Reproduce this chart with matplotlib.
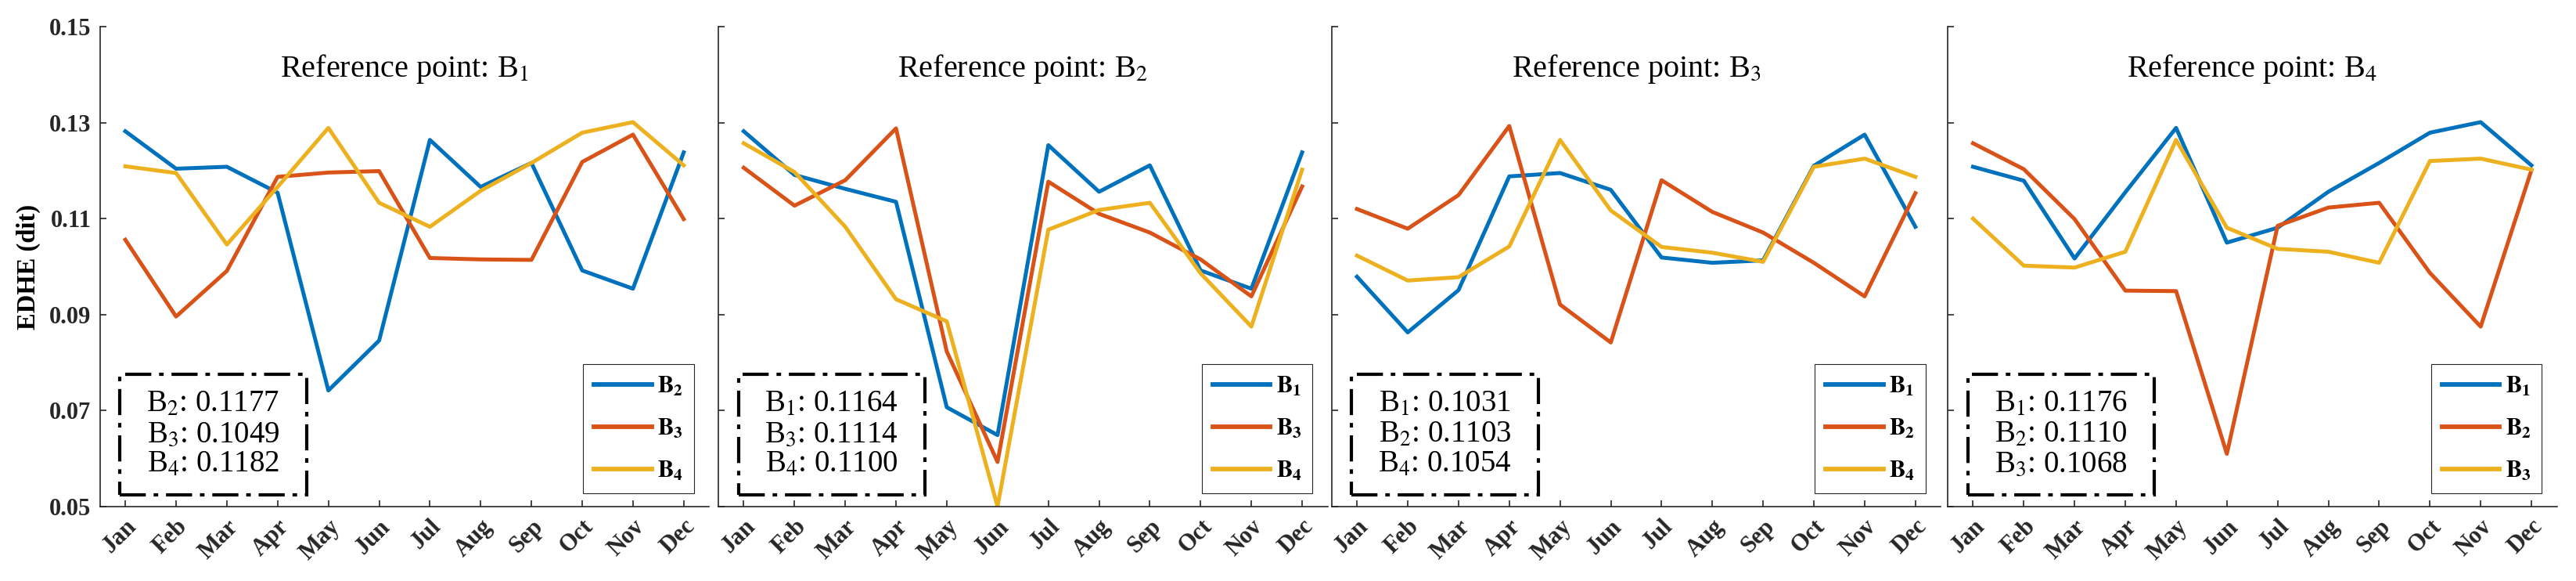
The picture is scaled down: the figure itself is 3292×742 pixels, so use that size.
import numpy as np
import matplotlib
matplotlib.use("Agg")
import matplotlib.pyplot as plt
from matplotlib.patches import Rectangle

plt.rcParams["font.family"] = ["Liberation Serif", "DejaVu Serif"]
plt.rcParams["mathtext.fontset"] = "stix"

months = ["Jan", "Feb", "Mar", "Apr", "May", "Jun", "Jul", "Aug", "Sep", "Oct", "Nov", "Dec"]

# reference point B1
ref1_B2 = [0.1282, 0.1204, 0.1208, 0.1154, 0.0742, 0.0846, 0.1264, 0.1166, 0.1216, 0.0992, 0.0954, 0.1238]
ref1_B3 = [0.1056, 0.0896, 0.0991, 0.1187, 0.1196, 0.1199, 0.1018, 0.1015, 0.1014, 0.1218, 0.1275, 0.1099]
ref1_B4 = [0.1209, 0.1195, 0.1046, 0.1166, 0.1289, 0.1133, 0.1083, 0.1158, 0.1216, 0.1279, 0.1301, 0.1211]
# reference point B2
ref2_B1 = [0.1282, 0.1191, 0.1162, 0.1135, 0.0707, 0.0649, 0.1253, 0.1156, 0.1211, 0.0992, 0.0954, 0.1238]
ref2_B3 = [0.1206, 0.1127, 0.1180, 0.1288, 0.0823, 0.0593, 0.1177, 0.1110, 0.1071, 0.1015, 0.0938, 0.1167]
ref2_B4 = [0.1257, 0.1197, 0.1083, 0.0932, 0.0886, 0.0500, 0.1077, 0.1118, 0.1133, 0.0986, 0.0875, 0.1202]
# reference point B3
ref3_B1 = [0.0979, 0.0863, 0.0951, 0.1188, 0.1195, 0.1160, 0.1019, 0.1008, 0.1013, 0.1210, 0.1275, 0.1083]
ref3_B2 = [0.1120, 0.1079, 0.1149, 0.1293, 0.0921, 0.0842, 0.1180, 0.1114, 0.1071, 0.1008, 0.0938, 0.1153]
ref3_B4 = [0.1023, 0.0971, 0.0978, 0.1042, 0.1264, 0.1117, 0.1041, 0.1029, 0.1010, 0.1208, 0.1225, 0.1187]
# reference point B4
ref4_B1 = [0.1208, 0.1179, 0.1017, 0.1155, 0.1289, 0.1050, 0.1081, 0.1156, 0.1216, 0.1279, 0.1301, 0.1211]
ref4_B2 = [0.1257, 0.1203, 0.1099, 0.0950, 0.0949, 0.0610, 0.1085, 0.1123, 0.1133, 0.0987, 0.0875, 0.1201]
ref4_B3 = [0.1100, 0.1002, 0.0998, 0.1031, 0.1264, 0.1081, 0.1037, 0.1031, 0.1008, 0.1220, 0.1225, 0.1202]

panels = [
    ("1", [("2", ref1_B2), ("3", ref1_B3), ("4", ref1_B4)], ["0.1177", "0.1049", "0.1182"]),
    ("2", [("1", ref2_B1), ("3", ref2_B3), ("4", ref2_B4)], ["0.1164", "0.1114", "0.1100"]),
    ("3", [("1", ref3_B1), ("2", ref3_B2), ("4", ref3_B4)], ["0.1031", "0.1103", "0.1054"]),
    ("4", [("1", ref4_B1), ("2", ref4_B2), ("3", ref4_B3)], ["0.1176", "0.1110", "0.1068"]),
]

colors = ["#0072BD", "#D95319", "#EDB120"]
W, H = 3292, 742
lefts = [127.7, 918, 1701.7, 2489]
x = np.arange(1, 13)

fig = plt.figure(figsize=(W / 100, H / 100), dpi=100)
for i, (ref, series, means) in enumerate(panels):
    ax = fig.add_axes([lefts[i] / W, 95 / H, 778.5 / W, 613 / H])
    for (name, vals), c in zip(series, colors):
        ax.plot(x, vals, color=c, lw=3.6, label=r"$\mathbf{B_%s}$" % name)
    ax.set_xlim(0.5, 12.5)
    ax.set_ylim(0.05, 0.15)
    ax.set_yticks(np.arange(0.05, 0.151, 0.02))
    ax.set_yticklabels(["%.2f" % v for v in np.arange(0.05, 0.151, 0.02)])
    ax.set_xticks(x)
    ax.set_xticklabels(months, rotation=45, ha="right", va="top", rotation_mode="anchor")
    for s in ["top", "right"]:
        ax.spines[s].set_visible(False)
    for s in ["left", "bottom"]:
        ax.spines[s].set_linewidth(1.2)
        ax.spines[s].set_color("#262626")
    ax.tick_params(direction="in", length=5.5, width=1.2, colors="#262626",
                   labelsize=22, pad=8)
    for lab in ax.get_xticklabels() + ax.get_yticklabels():
        lab.set_fontweight("bold")
    if i == 0:
        ax.set_ylabel("EDHE (dit)", fontsize=23.5, fontweight="bold", labelpad=8)
    else:
        ax.tick_params(labelleft=False)

    ax.text(0.5, 0.8956, "Reference point: B$_%s$" % ref, transform=ax.transAxes,
            ha="center", va="baseline", fontsize=29)

    ax.add_patch(Rectangle((0.033, 0.0245), 0.306, 0.2515, transform=ax.transAxes,
                           fill=False, lw=3, ec="black",
                           ls=(0, (8, 2.4, 1.4, 2.4)), clip_on=False))
    others = [n for n, _ in series]
    box_txt = "\n".join("B$_%s$: %s" % (n, m) for n, m in zip(others, means))
    ax.text(0.186, 0.150, box_txt, transform=ax.transAxes, ha="center", va="center",
            fontsize=28, linespacing=1.05)

    leg = ax.legend(loc="lower right", bbox_to_anchor=(0.9753, 0.0277), borderaxespad=0,
                    prop={"size": 22}, handlelength=2.4, handletextpad=0.25,
                    borderpad=0.45, labelspacing=0.8, fancybox=False, framealpha=1)
    leg.get_frame().set_edgecolor("#262626")
    leg.get_frame().set_linewidth(0.8)
    for ln in leg.get_lines():
        ln.set_linewidth(4.2)

fig.savefig("out.png", dpi=100)
